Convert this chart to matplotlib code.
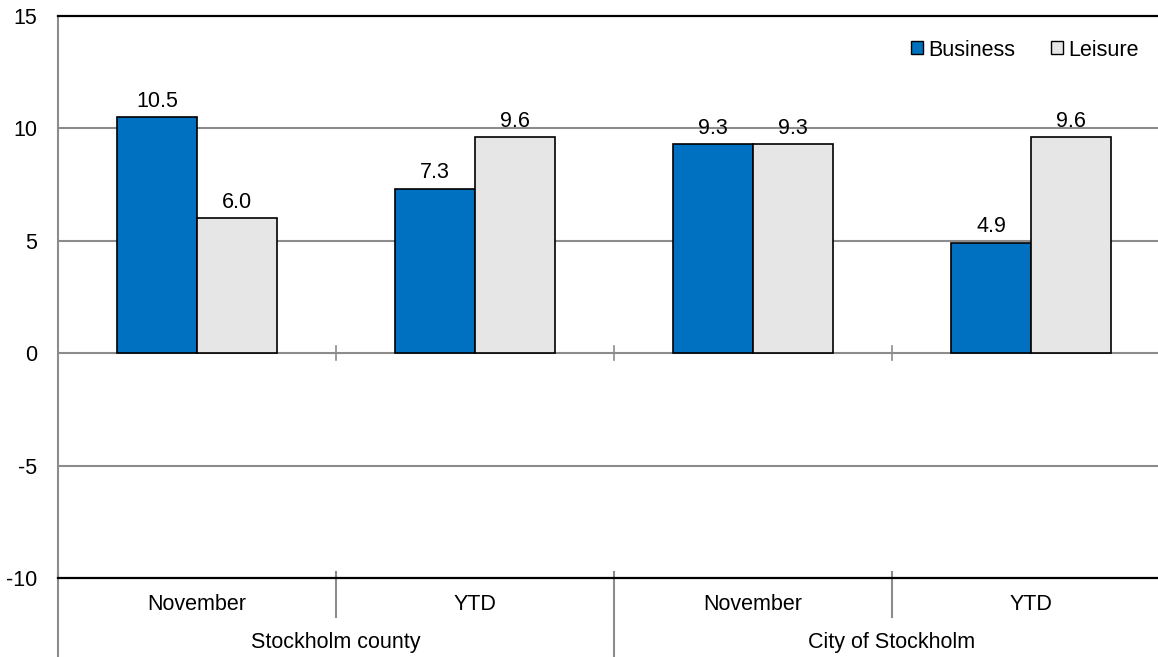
import matplotlib
matplotlib.use("Agg")
import matplotlib.pyplot as plt
from matplotlib.patches import Patch
from matplotlib.lines import Line2D

categories = ["November", "YTD", "November", "YTD"]
groups = ["Stockholm county", "City of Stockholm"]
business = [10.5, 7.3, 9.3, 4.9]
leisure = [6.0, 9.6, 9.3, 9.6]
yticks = [-10, -5, 0, 5, 10, 15]

plt.rcParams['font.family'] = ['Liberation Sans', 'DejaVu Sans']
FS = 15.5
W, H = 1158, 657
fig = plt.figure(figsize=(W / 100, H / 100), dpi=100)
left, right, top, bottom = 58, 1170, 16, 578
ax = fig.add_axes([left / W, 1 - bottom / H, (right - left) / W, (bottom - top) / H])
ax.set_xlim(-0.5, 3.5)
ax.set_ylim(-10, 15)

bw = 0.287
x = list(range(len(categories)))
bb = ax.bar([i - bw / 2 for i in x], business, bw, color="#0070C0", edgecolor="black", linewidth=1.2, zorder=3)
bl = ax.bar([i + bw / 2 for i in x], leisure, bw, color="#E6E6E6", edgecolor="black", linewidth=1.2, zorder=3)
for rects, vals in ((bb, business), (bl, leisure)):
    for r, v in zip(rects, vals):
        ax.text(r.get_x() + r.get_width() / 2, v + 0.25, f"{v:.1f}", ha="center", va="bottom", fontsize=FS, zorder=4)

ax.set_yticks(yticks)
ax.set_yticklabels([str(t) for t in yticks], fontsize=FS)
ax.tick_params(axis="y", length=0, pad=15)
ax.set_xticks([])
for t in yticks:
    if t in (-10, 15):
        continue
    ax.axhline(t, color="#8c8c8c", linewidth=1.5, zorder=1)
for s in ("top", "bottom"):
    ax.spines[s].set_color("black")
    ax.spines[s].set_linewidth(1.6)
ax.spines["left"].set_color("#8c8c8c")
ax.spines["left"].set_linewidth(1.5)
ax.spines["right"].set_visible(False)

trans = ax.get_xaxis_transform()
for b in (0.5, 1.5, 2.5):
    ax.plot([b, b], [-0.3, 0.3], color="#8c8c8c", linewidth=1.2, zorder=2)
py = lambda p: 1 - (p - top) / (bottom - top)
for b in (0.5, 2.5):
    ax.add_line(Line2D([b, b], [py(572), py(617)], transform=trans, color="#8c8c8c", linewidth=1.5, clip_on=False))
for b in (-0.5, 1.5, 3.5):
    ax.add_line(Line2D([b, b], [py(572), py(660)], transform=trans, color="#8c8c8c", linewidth=1.5, clip_on=False))
for i, c in enumerate(categories):
    ax.text(i, py(604), c, transform=trans, ha="center", va="center", fontsize=FS)
for g, name in enumerate(groups):
    ax.text(2 * g + 0.5, py(643), name, transform=trans, ha="center", va="center", fontsize=FS)

handles = [Patch(facecolor="#0070C0", edgecolor="black"), Patch(facecolor="#E6E6E6", edgecolor="black")]
fig.legend(handles, ["Business", "Leisure"], loc="center", bbox_to_anchor=(1025 / W, 1 - 50 / H),
           ncol=2, frameon=False, fontsize=FS, handlelength=0.55, handleheight=0.55, handletextpad=0.25,
           columnspacing=1.65)

fig.savefig("out.png", dpi=100)
